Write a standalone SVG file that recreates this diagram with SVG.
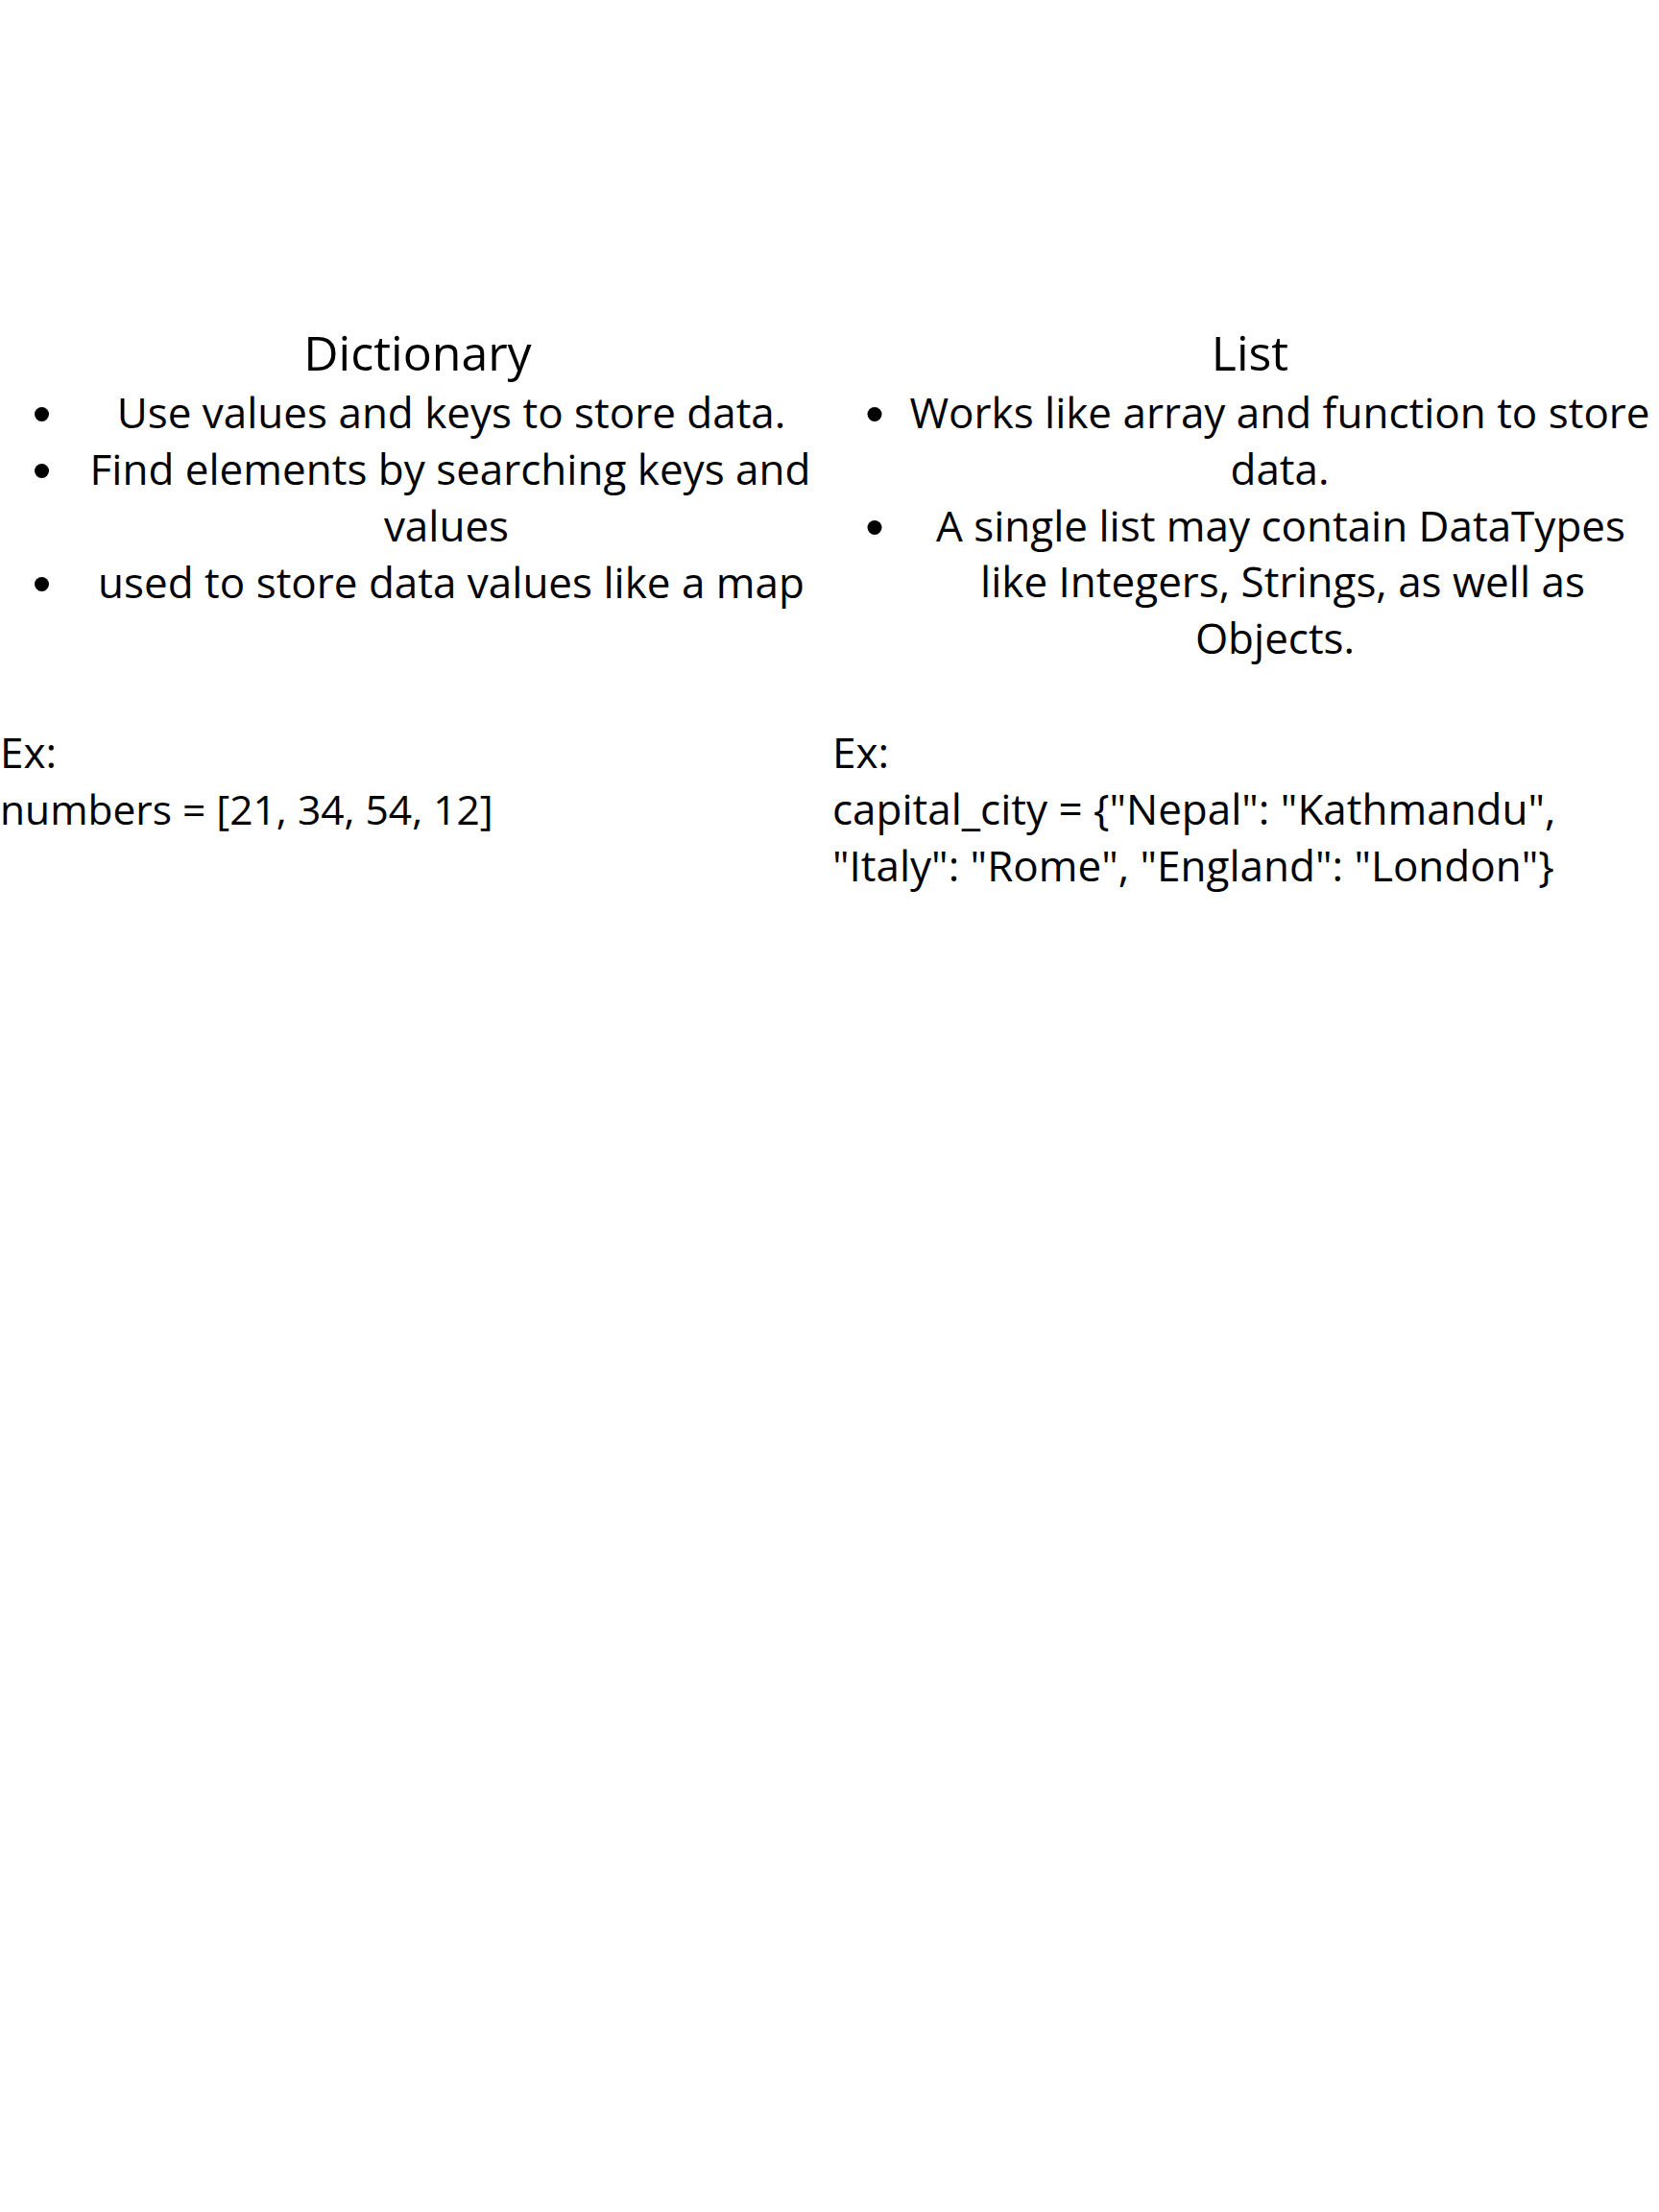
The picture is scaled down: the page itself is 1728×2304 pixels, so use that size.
<svg xmlns="http://www.w3.org/2000/svg" width="1728" height="2304" viewBox="0 0 1728 2304">
<style>
text{font-family:"Open Sans","Noto Sans","Liberation Sans",sans-serif;fill:#000;}
.t{font-size:50px;text-anchor:middle;}
.b{font-size:44px;text-anchor:middle;}
.e{font-size:44px;text-anchor:start;}
.n{font-size:42.5px;text-anchor:start;}
.dot{fill:#000;}
</style>
<rect width="1728" height="2304" fill="#fff"/>
<g id="dictionary">
<text class="t" x="435" y="386">Dictionary</text>
<circle class="dot" cx="43.5" cy="431.5" r="7.5"/>
<text class="b" x="470" y="446">Use values and keys to store data.</text>
<circle class="dot" cx="43.5" cy="490.5" r="7.5"/>
<text class="b" x="469" y="505">Find elements by searching keys and</text>
<text class="b" x="465" y="564">values</text>
<circle class="dot" cx="43.5" cy="608.5" r="7.5"/>
<text class="b" x="470" y="623">used to store data values like a map</text>
</g>
<g id="list">
<text class="t" x="1302" y="386">List</text>
<circle class="dot" cx="911" cy="431.5" r="7.5"/>
<text class="b" x="1333" y="446">Works like array and function to store</text>
<text class="b" x="1333" y="505">data.</text>
<circle class="dot" cx="911" cy="549.5" r="7.5"/>
<text class="b" x="1334" y="564">A single list may contain DataTypes</text>
<text class="b" x="1336" y="622">like Integers, Strings, as well as</text>
<text class="b" x="1328" y="681">Objects.</text>
</g>
<g id="example-left">
<text class="e" x="0" y="800">Ex:</text>
<text class="n" x="0" y="859">numbers = [21, 34, 54, 12]</text>
</g>
<g id="example-right">
<text class="e" x="867" y="800">Ex:</text>
<text class="e" x="867" y="859">capital_city = {"Nepal": "Kathmandu",</text>
<text class="e" x="867" y="918">"Italy": "Rome", "England": "London"}</text>
</g>
</svg>
